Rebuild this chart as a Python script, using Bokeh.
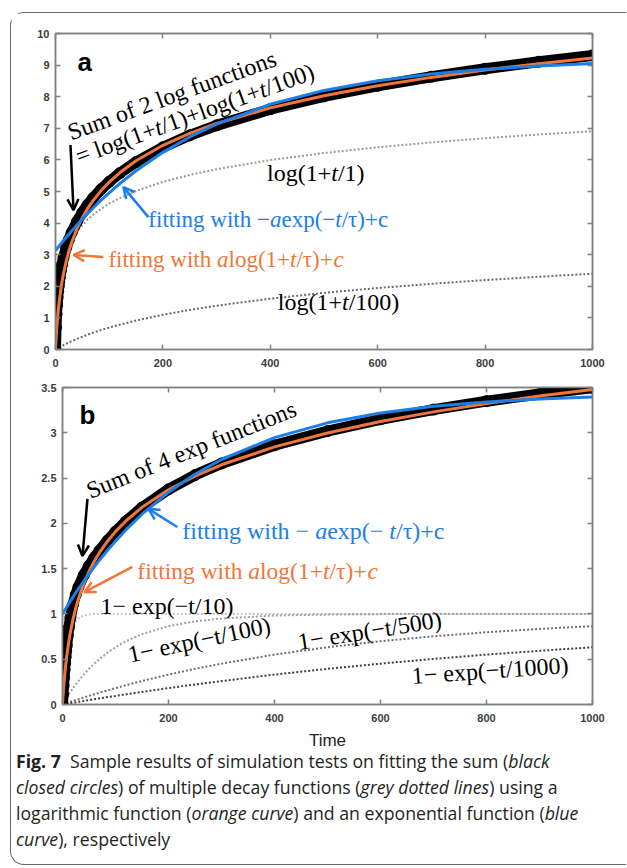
import math
from bokeh.plotting import figure
from bokeh.layouts import column, row
from bokeh.models import (Range1d, LinearAxis, FixedTicker, Label, Arrow, OpenHead,
                          Div, ColumnDataSource, Spacer)
from bokeh.embed import file_html
from bokeh.resources import INLINE

# ---------------- data ----------------
t = [0, 1, 2, 3, 4, 5, 6, 7, 8, 10, 12, 15, 20, 25, 30, 40, 50, 60, 70, 85,
     100, 120, 150, 200, 250, 300, 400, 500, 600, 700, 800, 900, 1000]

# panel a
a_log1 = [0, 0.693, 1.099, 1.386, 1.609, 1.792, 1.946, 2.079, 2.197, 2.398, 2.565, 2.773, 3.045, 3.258, 3.434,
          3.714, 3.932, 4.111, 4.263, 4.454, 4.615, 4.796, 5.017, 5.303, 5.525, 5.707, 5.994, 6.217, 6.399,
          6.553, 6.686, 6.804, 6.909]
a_log100 = [0, 0.010, 0.020, 0.030, 0.039, 0.049, 0.058, 0.068, 0.077, 0.095, 0.113, 0.140, 0.182, 0.223, 0.262,
            0.336, 0.405, 0.470, 0.531, 0.615, 0.693, 0.788, 0.916, 1.099, 1.253, 1.386, 1.609, 1.792, 1.946,
            2.079, 2.197, 2.303, 2.398]
a_sum = [0, 0.703, 1.119, 1.416, 1.648, 1.841, 2.004, 2.147, 2.274, 2.493, 2.678, 2.913, 3.227, 3.481, 3.696,
         4.050, 4.337, 4.581, 4.794, 5.069, 5.308, 5.584, 5.933, 6.402, 6.778, 7.093, 7.603, 8.009, 8.345,
         8.632, 8.883, 9.107, 9.307]
a_logfit = [0, 0.317, 0.586, 0.818, 1.023, 1.206, 1.372, 1.523, 1.663, 1.912, 2.129, 2.412, 2.800, 3.118, 3.386,
            3.823, 4.172, 4.463, 4.712, 5.029, 5.297, 5.601, 5.975, 6.462, 6.841, 7.153, 7.646, 8.030, 8.345,
            8.611, 8.842, 9.045, 9.228]
a_expfit = [3.130, 3.152, 3.173, 3.195, 3.216, 3.238, 3.259, 3.280, 3.302, 3.344, 3.386, 3.448, 3.550, 3.650,
            3.749, 3.941, 4.126, 4.305, 4.477, 4.725, 4.959, 5.253, 5.656, 6.239, 6.726, 7.134, 7.761, 8.199,
            8.505, 8.720, 8.870, 8.975, 9.049]

# panel b
b_e10 = [0, 0.095, 0.181, 0.259, 0.330, 0.394, 0.451, 0.503, 0.551, 0.632, 0.699, 0.777, 0.865, 0.918, 0.950,
         0.982, 0.993, 0.998, 0.999, 1.000, 1, 1, 1, 1, 1, 1, 1, 1, 1, 1, 1, 1, 1]
b_e100 = [0, 0.010, 0.020, 0.030, 0.039, 0.049, 0.058, 0.068, 0.077, 0.095, 0.113, 0.139, 0.181, 0.221, 0.259,
          0.330, 0.394, 0.451, 0.503, 0.573, 0.632, 0.699, 0.777, 0.865, 0.918, 0.950, 0.982, 0.993, 0.998,
          0.999, 1.000, 1.000, 1.000]
b_e500 = [0, 0.002, 0.004, 0.006, 0.008, 0.010, 0.012, 0.014, 0.016, 0.020, 0.024, 0.030, 0.039, 0.049, 0.058,
          0.077, 0.095, 0.113, 0.131, 0.156, 0.181, 0.213, 0.259, 0.330, 0.394, 0.451, 0.551, 0.632, 0.699,
          0.753, 0.798, 0.835, 0.865]
b_e1000 = [0, 0.001, 0.002, 0.003, 0.004, 0.005, 0.006, 0.007, 0.008, 0.010, 0.012, 0.015, 0.020, 0.025, 0.030,
           0.039, 0.049, 0.058, 0.068, 0.082, 0.095, 0.113, 0.139, 0.181, 0.221, 0.259, 0.330, 0.394, 0.451,
           0.503, 0.551, 0.593, 0.632]
b_sum = [0, 0.108, 0.207, 0.298, 0.381, 0.457, 0.527, 0.592, 0.652, 0.757, 0.848, 0.961, 1.105, 1.213, 1.297,
         1.428, 1.531, 1.620, 1.701, 1.810, 1.909, 2.025, 2.175, 2.376, 2.533, 2.661, 2.862, 3.019, 3.148,
         3.256, 3.349, 3.428, 3.497]
b_logfit = [0, 0.093, 0.176, 0.250, 0.316, 0.377, 0.433, 0.485, 0.533, 0.621, 0.699, 0.802, 0.945, 1.064, 1.166,
            1.333, 1.468, 1.581, 1.679, 1.803, 1.909, 2.029, 2.177, 2.371, 2.522, 2.647, 2.844, 2.998, 3.124,
            3.231, 3.323, 3.405, 3.478]
b_expfit = [1.000, 1.010, 1.019, 1.029, 1.039, 1.048, 1.058, 1.067, 1.077, 1.096, 1.114, 1.142, 1.188, 1.232,
            1.276, 1.361, 1.442, 1.521, 1.596, 1.703, 1.804, 1.930, 2.101, 2.344, 2.542, 2.705, 2.947, 3.110,
            3.219, 3.292, 3.341, 3.373, 3.395]

x_ticks = [0, 200, 400, 600, 800, 1000]
x_tick_labels = ["0", "200", "400", "600", "800", "1000"]
a_y_ticks = [0, 1, 2, 3, 4, 5, 6, 7, 8, 9, 10]
a_y_tick_labels = ["0", "1", "2", "3", "4", "5", "6", "7", "8", "9", "10"]
b_y_ticks = [0, 0.5, 1, 1.5, 2, 2.5, 3, 3.5]
b_y_tick_labels = ["0", "0.5", "1", "1.5", "2", "2.5", "3", "3.5"]

# ---------------- styles ----------------
BLUE = "#1C7EE8"
ORANGE = "#F0763A"
FRAME = "#808080"
SERIF = "Liberation Serif"
SANS = "Liberation Sans"

# Times New Roman advance widths (em) for placing italic pieces next to upright ones
W_R = {" ": .25, "(": .333, ")": .333, "+": .564, "/": .278, "=": .564, "\u2212": .564, "\u03c4": .44,
       "a": .444, "c": .444, "e": .444, "f": .333, "g": .5, "h": .5, "i": .278, "l": .278, "n": .5,
       "o": .5, "p": .5, "s": .389, "t": .278, "u": .5, "w": .722, "x": .5, "S": .556, "m": .778}
W_I = {"a": .5, "t": .278, "c": .444}


def text_w(s, style):
    tab = W_I if style == "italic" else W_R
    return sum(tab.get(ch, W_R.get(ch, 0.5)) for ch in s)


def rich(p, x, y, pieces, size=24, angle=0.0, color="black"):
    th = math.radians(angle)
    off = 0.0
    for s, style in pieces:
        p.add_layout(Label(x=x, y=y, x_offset=off * math.cos(th), y_offset=off * math.sin(th),
                           text=s, text_font=SERIF, text_font_style=style,
                           text_font_size=f"{size}px", text_color=color, angle=th,
                           text_align="left", text_baseline="alphabetic"))
        off += text_w(s, style) * size


def arrow(p, x0, y0, x1, y1, color, w=2.5):
    p.add_layout(Arrow(x_start=x0, y_start=y0, x_end=x1, y_end=y1, line_color=color, line_width=w,
                       end=OpenHead(size=11, line_color=color, line_width=w)))


def style_axis(ax):
    ax.major_tick_in = 5
    ax.major_tick_out = 0
    ax.minor_tick_line_color = None
    ax.axis_line_color = FRAME
    ax.axis_line_width = 1.5
    ax.major_tick_line_color = FRAME
    ax.major_tick_line_width = 1.5


def make_fig(width, height, yr, yticks, ylabels, left, top, bottom):
    p = figure(width=width, height=height, output_backend="svg", toolbar_location=None,
               x_range=Range1d(0, 1000), y_range=Range1d(*yr),
               min_border_left=left, min_border_right=34, min_border_top=top, min_border_bottom=bottom,
               background_fill_color="white", border_fill_color="white",
               outline_line_color=FRAME, outline_line_width=1.5)
    p.grid.grid_line_color = None
    xb = p.below[0]
    yl = p.left[0]
    for ax, ticks, labels in ((xb, x_ticks, x_tick_labels), (yl, yticks, ylabels)):
        ax.ticker = FixedTicker(ticks=ticks)
        ax.major_label_overrides = {float(k): v for k, v in zip(ticks, labels)}
        style_axis(ax)
        ax.major_label_text_font = SANS
        ax.major_label_text_font_style = "bold"
        ax.major_label_text_font_size = "11px"
        ax.major_label_text_color = "#3c3c3c"
    xb.major_label_standoff = 9
    yl.major_label_standoff = 6
    for loc, ticks in (("above", x_ticks), ("right", yticks)):
        ax = LinearAxis(ticker=FixedTicker(ticks=ticks), major_label_text_color=None,
                        major_label_text_font_size="1px", major_label_standoff=0)
        style_axis(ax)
        p.add_layout(ax, loc)
    return p, xb


# ---------------- panel a ----------------
pa, pa_x = make_fig(615, 364, (0, 10), a_y_ticks, a_y_tick_labels, left=44, top=20, bottom=28)
src_a = ColumnDataSource(dict(t=t, log1=a_log1, log100=a_log100, s=a_sum, lf=a_logfit, ef=a_expfit))
pa.line("t", "log1", source=src_a, line_color="#9a9a9a", line_width=2, line_dash="2 2")
pa.line("t", "log100", source=src_a, line_color="#6a6a6a", line_width=2, line_dash="2 2")
pa.line("t", "s", source=src_a, line_color="black", line_width=11, line_join="round", line_cap="round")
pa.scatter("t", "s", source=src_a, size=11, fill_color="black", line_color="black")
pa.line("t", "lf", source=src_a, line_color=ORANGE, line_width=3)
pa.line("t", "ef", source=src_a, line_color=BLUE, line_width=3)

pa.add_layout(Label(x=40.9, y=9.1, text="a", text_font=SANS, text_font_style="bold",
                    text_font_size="26px", text_color="black", text_baseline="alphabetic"))
rich(pa, 24.2, 6.85, [("Sum of 2 log functions", "normal")], angle=20)
rich(pa, 39.0, 6.09, [("= log(1+", "normal"), ("t", "italic"), ("/1)+log(1+", "normal"),
                      ("t", "italic"), ("/100)", "normal")], angle=20)
rich(pa, 394, 5.6, [("log(1+", "normal"), ("t", "italic"), ("/1)", "normal")])
rich(pa, 414, 1.5, [("log(1+", "normal"), ("t", "italic"), ("/100)", "normal")])
rich(pa, 172.9, 4.1, [("fitting with \u2212", "normal"), ("a", "italic"), ("exp(\u2212", "normal"),
                      ("t", "italic"), ("/\u03c4)+c", "normal")], size=23, color=BLUE)
rich(pa, 98.5, 2.84, [("fitting with ", "normal"), ("a", "italic"), ("log(1+", "normal"),
                      ("t", "italic"), ("/\u03c4)+", "normal"), ("c", "italic")], size=23, color=ORANGE)
arrow(pa, 27.9, 6.47, 33.5, 4.41, "black")
arrow(pa, 172.9, 4.19, 126.4, 5.14, BLUE)
arrow(pa, 89.2, 2.93, 33.5, 2.99, ORANGE)

# ---------------- panel b ----------------
pb, pb_x = make_fig(608, 375, (0, 3.5), b_y_ticks, b_y_tick_labels, left=44, top=10, bottom=47)
pb_x.axis_label = "Time"
pb_x.axis_label_text_font = SANS
pb_x.axis_label_text_font_style = "normal"
pb_x.axis_label_text_font_size = "17px"
pb_x.axis_label_text_color = "#222222"
pb_x.axis_label_standoff = 6
src_b = ColumnDataSource(dict(t=t, e10=b_e10, e100=b_e100, e500=b_e500, e1000=b_e1000,
                              s=b_sum, lf=b_logfit, ef=b_expfit))
pb.line("t", "e10", source=src_b, line_color="#c4c4c4", line_width=2, line_dash="2 2")
pb.line("t", "e100", source=src_b, line_color="#a0a0a0", line_width=2, line_dash="2 2")
pb.line("t", "e500", source=src_b, line_color="#6e6e6e", line_width=2, line_dash="2 2")
pb.line("t", "e1000", source=src_b, line_color="#404040", line_width=2, line_dash="2 2")
pb.line("t", "s", source=src_b, line_color="black", line_width=11, line_join="round", line_cap="round")
pb.scatter("t", "s", source=src_b, size=11, fill_color="black", line_color="black")
pb.line("t", "lf", source=src_b, line_color=ORANGE, line_width=3)
pb.line("t", "ef", source=src_b, line_color=BLUE, line_width=3)

pb.add_layout(Label(x=32, y=3.2, text="b", text_font=SANS, text_font_style="bold",
                    text_font_size="26px", text_color="black", text_baseline="alphabetic"))
rich(pb, 47.1, 2.35, [("Sum of 4 exp functions", "normal")], angle=22)
rich(pb, 226, 1.915, [("fitting with \u2212 ", "normal"), ("a", "italic"), ("exp(\u2212 ", "normal"),
                      ("t", "italic"), ("/\u03c4)+c", "normal")], color=BLUE)
rich(pb, 141.2, 1.473, [("fitting with ", "normal"), ("a", "italic"), ("log(1+", "normal"),
                        ("t", "italic"), ("/\u03c4)+", "normal"), ("c", "italic")], size=23.5, color=ORANGE)
rich(pb, 71.6, 1.087, [("1\u2212 exp(\u2212t/10)", "normal")])
rich(pb, 124.3, 0.546, [("1\u2212 exp(\u2212t/100)", "normal")], angle=12)
rich(pb, 444.4, 0.69, [("1\u2212 exp(\u2212t/500)", "normal")], angle=9)
rich(pb, 659, 0.315, [("1\u2212 exp(\u2212t/1000)", "normal")], angle=4)
arrow(pb, 47.1, 2.27, 37.7, 1.64, "black")
arrow(pb, 216.6, 1.96, 162, 2.16, BLUE)
arrow(pb, 131.8, 1.52, 41.4, 1.24, ORANGE)

# ---------------- caption ----------------
caption_html = (
    "<div style=\"font-family:'Open Sans'; font-size:17.7px; line-height:26px; color:#231f20;"
    " white-space:nowrap; padding:0 0 0 5px; margin-top:-4px;\">"
    "<b>Fig. 7</b>&nbsp; Sample results of simulation tests on fitting the sum (<i>black</i><br>"
    "<i>closed circles</i>) of multiple decay functions (<i>grey dotted lines</i>) using a<br>"
    "logarithmic function (<i>orange curve</i>) and an exponential function (<i>blue</i><br>"
    "<i>curve</i>), respectively</div>"
)
cap = Div(text=caption_html, width=615, height=112, margin=0)

layout = column(pa, row(Spacer(width=7, height=375), pb), cap, margin=(12, 0, 0, 10),
                styles={"border-left": "1.5px solid #6b6b6b", "border-top": "1.5px solid #6b6b6b",
                        "border-bottom": "1.5px solid #6b6b6b", "border-radius": "14px 0 0 14px"})

open("out.html", "w").write(file_html(layout, INLINE))
